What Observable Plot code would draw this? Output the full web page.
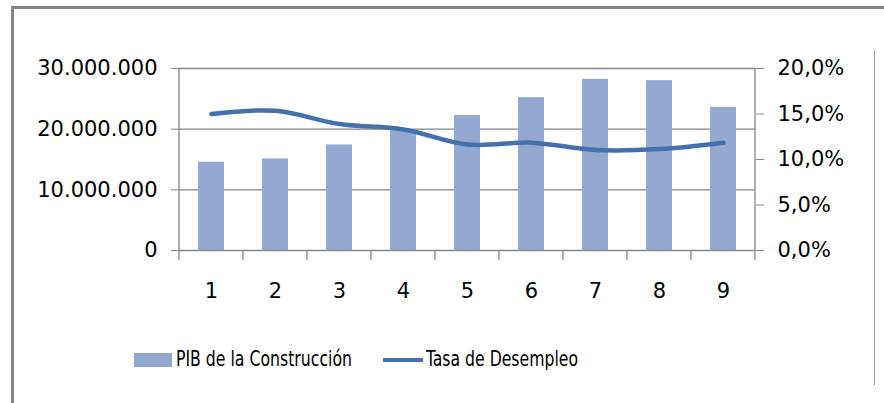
<!DOCTYPE html>
<html>
<head>
<meta charset="utf-8">
<script src="https://cdn.jsdelivr.net/npm/d3@7"></script>
<script src="https://cdn.jsdelivr.net/npm/@observablehq/plot@0.6"></script>
<style>
  html, body { margin: 0; padding: 0; background: #fff; }
  #wrap { position: relative; width: 884px; height: 403px; overflow: hidden; background: #fff; }
  .frame { position: absolute; background: #858585; }
  #legend { position: absolute; left: 0; top: 0; width: 884px; height: 403px; pointer-events: none;
            font-family: "Liberation Sans Narrow", "DejaVu Sans Condensed", sans-serif; font-size: 22px; color: #000; }
  .sw { position: absolute; }
  .lt { position: absolute; white-space: nowrap; line-height: 1; transform-origin: 0 0; }
</style>
</head>
<body>
<div id="wrap">
  <div id="chart"></div>
  <div id="legend">
    <div class="sw" style="left:134px;top:353px;width:38px;height:14px;background:#94A9D2;"></div>
    <div class="lt" id="l1" style="left:176px;top:348px;"></div>
    <div class="sw" style="left:383px;top:358px;width:40px;height:4px;background:#4471AC;"></div>
    <div class="lt" id="l2" style="left:426px;top:348px;"></div>
  </div>
  <div class="frame" style="left:11px;top:6px;width:873px;height:3px;"></div>
  <div class="frame" style="left:11px;top:6px;width:3px;height:397px;"></div>
  <div class="frame" style="left:874px;top:50px;width:1px;height:335px;background:#9a9a9a;"></div>
</div>
<script>
// ---- data ----
const categories = [1, 2, 3, 4, 5, 6, 7, 8, 9];
const pibConstruccion = [14550000, 15100000, 17400000, 19900000, 22250000, 25200000, 28200000, 28000000, 23600000];
const tasaDesempleo = [15.0, 15.35, 13.9, 13.3, 11.65, 11.85, 11.05, 11.15, 11.85];
const leftTicks = [0, 10000000, 20000000, 30000000];
const rightTicks = [0, 5, 10, 15, 20];
const seriesNames = ["PIB de la Construcción", "Tasa de Desempleo"];

// legend text, narrowed to the reference's widths
[["l1", seriesNames[0], 176], ["l2", seriesNames[1], 152]].forEach(([id, txt, w]) => {
  const el = document.getElementById(id);
  el.textContent = txt;
  const cur = el.getBoundingClientRect().width;
  if (cur > 0) el.style.transform = `scaleX(${w / cur})`;
});

const leftMax = 30000000, rightMax = 20;
const toLeft = p => p / rightMax * leftMax;

const bars = categories.map((c, i) => ({cat: c, v: pibConstruccion[i]}));
const pts = categories.map((c, i) => ({cat: c, v: toLeft(tasaDesempleo[i])}));

const fmtLeft = d => d === 0 ? "0" : d3.format(",")(d).replace(/,/g, ".");
const fmtRight = d => d.toFixed(1).replace(".", ",") + "%";

const grid = "#868686";
const H = 330;
const chart = Plot.plot({
  width: 884,
  height: H,
  marginLeft: 178,
  marginRight: 129,
  marginTop: 68,
  marginBottom: H - 250,
  style: {fontFamily: "DejaVu Sans", fontSize: "21px", color: "#000", background: "transparent"},
  x: {type: "band", domain: categories, padding: 0, axis: null, label: null},
  y: {domain: [0, leftMax], axis: null, label: null},
  marks: [
    Plot.ruleY(leftTicks.slice(1), {stroke: grid, strokeWidth: 1.3}),
    Plot.barY(bars, {x: "cat", y: "v", fill: "#94A9D2", insetLeft: 19, insetRight: 19}),
    Plot.axisY(leftTicks, {anchor: "left", label: null, tickFormat: fmtLeft, tickSize: 7, tickPadding: 14, stroke: grid, fill: "#000", fontSize: 21}),
    Plot.axisY(rightTicks.map(toLeft), {anchor: "right", label: null, tickFormat: d => fmtRight(d / leftMax * rightMax), tickSize: 8, tickPadding: 14, stroke: grid, fill: "#000", fontSize: 21}),
    Plot.ruleY([0], {stroke: grid, strokeWidth: 1.3}),
    Plot.line(pts, {x: "cat", y: "v", stroke: "#4471AC", strokeWidth: 4.5, curve: "catmull-rom"}),
    Plot.axisX(categories, {anchor: "bottom", label: null, tickSize: 0, tickPadding: 33, fill: "#000", fontSize: 21})
  ]
});
document.getElementById("chart").appendChild(chart);

// vertical axis lines and category-boundary ticks via scales
const xs = chart.scale("x"), ys = chart.scale("y");
const svg = d3.select(chart);
const y0 = ys.apply(0), yTop = ys.apply(leftMax);
const bw = xs.bandwidth;
const boundaries = categories.map(c => xs.apply(c)).concat([xs.apply(categories[categories.length - 1]) + bw]);
const g = svg.append("g").attr("stroke", grid).attr("stroke-width", 1.3);
g.append("line").attr("x1", boundaries[0]).attr("x2", boundaries[0]).attr("y1", yTop).attr("y2", y0);
g.append("line").attr("x1", boundaries[boundaries.length-1]).attr("x2", boundaries[boundaries.length-1]).attr("y1", yTop).attr("y2", y0);
boundaries.forEach(b => g.append("line").attr("x1", b).attr("x2", b).attr("y1", y0).attr("y2", y0 + 10));
// keep line on top
const ln = svg.select("g[aria-label='line']").node();
if (ln) svg.node().appendChild(ln);
</script>
</body>
</html>
